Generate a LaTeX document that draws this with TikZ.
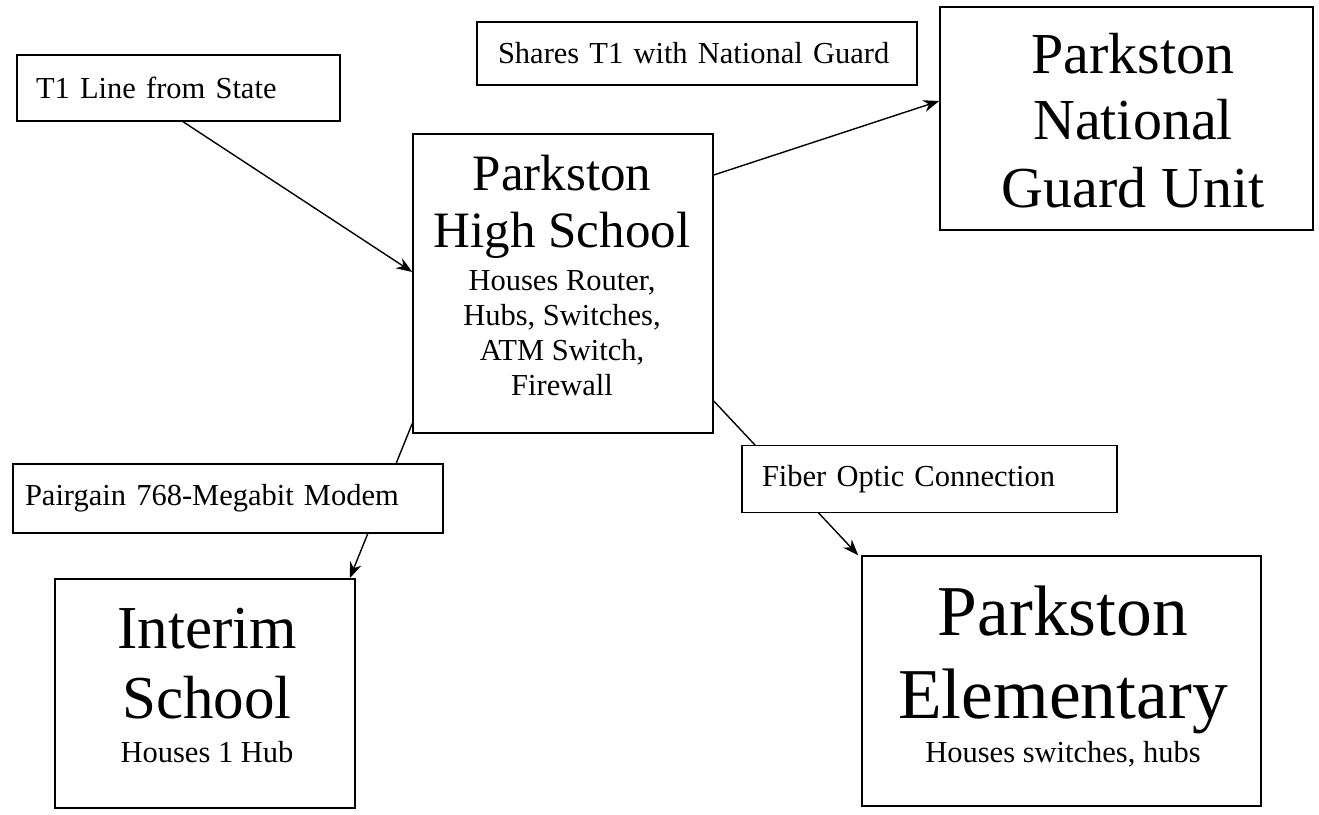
\documentclass[tikz,border=0pt]{standalone}
\usepackage{fontspec}
\setmainfont{Liberation Serif}
\usetikzlibrary{arrows.meta,calc}
\begin{document}
\begin{tikzpicture}[x=1pt,y=-1pt,
  box/.style={draw, line width=1.5pt, inner sep=0pt},
  lbl/.style={draw, line width=1.4pt, fill=white, inner ysep=0pt,
    font=\fontsize{30.5}{36}\selectfont, align=left},
  txt/.style={anchor=base, inner sep=0pt},
  conn/.style={line width=1.4pt, -{Stealth[length=16pt,width=12pt]}}]
\useasboundingbox (0,0) rectangle (1319,814);

% main boxes
\node[box, minimum width=300pt, minimum height=299pt] (hs) at (563,283.5) {};
\node[box, minimum width=373pt, minimum height=223pt] (ng) at (1126.5,118.5) {};
\node[box, minimum width=300pt, minimum height=229pt] (interim) at (205,693.5) {};
\node[box, minimum width=399pt, minimum height=250pt] (elem) at (1061.5,681) {};

% texts of main boxes
\node[txt, font=\fontsize{51}{51}\selectfont] (hs1) at (562,190) {Parkston};
\node[txt, font=\fontsize{51}{51}\selectfont] (hs2) at (562,247) {High School};
\node[txt, font=\fontsize{30.5}{30.5}\selectfont] (hs3) at (562,290) {Houses Router,};
\node[txt, font=\fontsize{30.5}{30.5}\selectfont] (hs4) at (562,325) {Hubs, Switches,};
\node[txt, font=\fontsize{30.5}{30.5}\selectfont] (hs5) at (562,360) {ATM Switch,};
\node[txt, font=\fontsize{30.5}{30.5}\selectfont] (hs6) at (562,395) {Firewall};

\node[txt, font=\fontsize{58}{58}\selectfont] (ng1) at (1133,73) {Parkston};
\node[txt, font=\fontsize{58}{58}\selectfont] (ng2) at (1133,139) {National};
\node[txt, font=\fontsize{58}{58}\selectfont] (ng3) at (1133,207) {Guard Unit};

\node[txt, font=\fontsize{61}{61}\selectfont] (in1) at (207,648) {Interim};
\node[txt, font=\fontsize{61}{61}\selectfont] (in2) at (207,718) {School};
\node[txt, font=\fontsize{30.5}{30.5}\selectfont] (in3) at (207,762) {Houses 1 Hub};

\node[txt, font=\fontsize{71.5}{71.5}\selectfont] (el1) at (1063,635) {Parkston};
\node[txt, font=\fontsize{71.5}{71.5}\selectfont] (el2) at (1063,718) {Elementary};
\node[txt, font=\fontsize{30.5}{30.5}\selectfont] (el3) at (1063,762) {Houses switches, hubs};

% top labels
\node[lbl, minimum height=66pt, text width=285pt, inner xsep=19pt] (t1) at (178.5,88) {T1 Line from State};
\node[lbl, minimum height=63pt, text width=398pt, inner xsep=21pt] (shares) at (697,53.5) {Shares T1 with National Guard};

% connectors
\draw[conn] ($(t1.south)+(4.5,0)$) -- ($(hs.west)+(0,-11.5)$);
\draw[conn] ($(hs.east)+(0,-108.5)$) -- ($(ng.west)+(0,-17.5)$);
\draw[conn] ($(hs.west)+(0,140)$) -- ($(interim.north east)+(-6,0)$);
\draw[conn] ($(hs.east)+(0,117.5)$) -- ($(elem.north west)+(-3,0)$);

% labels lying on connectors
\node[lbl, minimum height=69pt, text width=406pt, inner xsep=12pt] (pair) at (228,498.5) {Pairgain 768-Megabit Modem};
\node[lbl, minimum height=67.5pt, text width=335pt, inner xsep=20pt] (fiber) at (929.5,479) {Fiber Optic Connection};
\end{tikzpicture}
\end{document}
